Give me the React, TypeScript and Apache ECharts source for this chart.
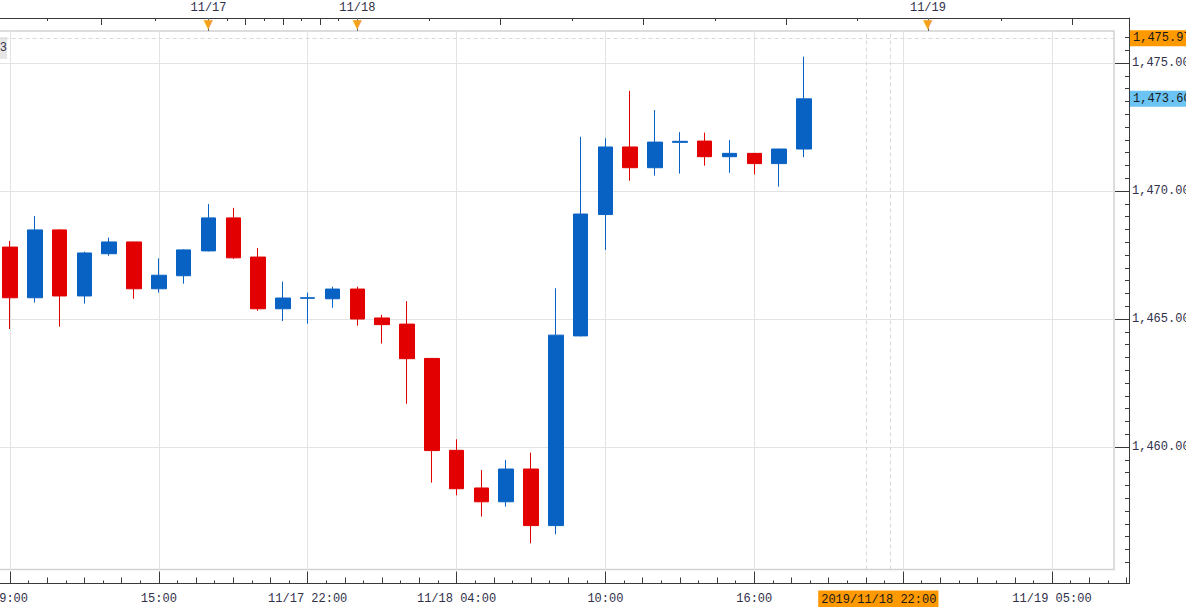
import React, { useEffect, useRef } from 'react';
import * as echarts from 'echarts';

// ---------------- data ----------------
const categories = [
  '09:00', '10:00', '11:00', '12:00', '13:00', '14:00', '15:00', '16:00', '17:00', '18:00',
  '19:00', '20:00', '11/17 22:00', '23:00', '00:00', '01:00', '02:00', '03:00', '11/18 04:00', '05:00',
  '06:00', '07:00', '08:00', '09:00', '10:00', '11:00', '12:00', '13:00', '14:00', '15:00',
  '16:00', '17:00', '18:00', '19:00', '20:00', '2019/11/18 22:00', '22:00', '23:00', '00:00', '01:00',
  '02:00', '03:00', '11/19 05:00', '06:00', '07:00',
];

const opens = [
  1467.81, 1465.83, 1468.48, 1465.90, 1467.55, 1468.01, 1466.18, 1466.69, 1467.66, 1468.95,
  1467.42, 1465.40, 1465.81, 1465.79, 1466.17, 1465.04, 1464.80, 1463.46, 1459.87, 1458.40,
  1457.86, 1459.14, 1456.93, 1464.34, 1469.08, 1471.72, 1470.91, 1471.90, 1471.95, 1471.34,
  1471.47, 1471.07, 1471.64,
];
const closes = [
  1465.83, 1468.48, 1465.90, 1467.58, 1468.01, 1466.18, 1466.71, 1467.70, 1468.95, 1467.39,
  1465.40, 1465.82, 1465.83, 1466.17, 1465.00, 1464.78, 1463.45, 1459.86, 1458.37, 1457.86,
  1459.14, 1456.93, 1464.37, 1469.10, 1471.72, 1470.91, 1471.91, 1471.94, 1471.34, 1471.47,
  1471.07, 1471.64, 1473.60,
];
const lows = [
  1464.61, 1465.64, 1464.70, 1465.60, 1467.47, 1465.79, 1466.03, 1466.38, 1467.64, 1467.35,
  1465.32, 1464.92, 1464.82, 1465.44, 1464.74, 1464.04, 1461.69, 1458.61, 1458.11, 1457.28,
  1457.67, 1456.24, 1456.59, 1464.32, 1467.70, 1470.40, 1470.60, 1470.68, 1470.99, 1470.71,
  1470.65, 1470.17, 1471.32,
];
const highs = [
  1468.05, 1469.02, 1468.50, 1467.63, 1468.18, 1468.02, 1467.37, 1467.72, 1469.49, 1469.34,
  1467.77, 1466.46, 1466.03, 1466.26, 1466.26, 1465.16, 1465.70, 1463.47, 1460.30, 1459.10,
  1459.49, 1459.78, 1466.20, 1472.12, 1472.06, 1473.91, 1473.16, 1472.30, 1472.28, 1471.99,
  1471.48, 1471.65, 1475.25,
];

const priceTicks = [1460, 1465, 1470, 1475];
const bottomLabelIdx = [0, 6, 12, 18, 24, 30, 42];
const bottomLabels = ['09:00', '15:00', '11/17 22:00', '11/18 04:00', '10:00', '16:00', '11/19 05:00'];
const gridLineIdx = [0, 6, 12, 18, 24, 30, 36, 42];
const cursorIdx = 35;
const cursorLabel = '2019/11/18 22:00';
const dayIdx = [8, 14, 37];
const dayLabels = ['11/17', '11/18', '11/19'];
const topTallTicks = [3.68, 9.5, 11, 12.5, 19.76, 25.53, 31.29, 42.8];
const topShortTicks = [1.52, 5.84, 8.75, 10.25, 11.75, 13.25, 16.88, 22.65, 28.41, 34.17, 39.94];
const highPrice = 1475.97;
const lastPrice = 1473.6;

// ---------------- layout & style ----------------
const W = 1186;
const H = 607;
const IN_L = -2.4, IN_R = 1114, IN_T = 31, IN_B = 569.5;
const OUT_R = 1129, OUT_T = 18, OUT_B = 583.5;
const Y_MIN = 1455.215, Y_MAX = 1476.25;
const SLOTS = 45;

const BLUE = '#0862c4';
const RED = '#e20000';
const AXIS = '#3a3a3a';
const TXT = '#30304a';
const FONT = '"Liberation Mono", "DejaVu Sans Mono", monospace';

const pxPerY = (IN_B - IN_T) / (Y_MAX - Y_MIN);
const outYMax = Y_MAX + (IN_T - OUT_T) / pxPerY;
const outYMin = Y_MIN - (OUT_B - IN_B) / pxPerY;
const slotW = (IN_R - IN_L) / SLOTS;
const outXMax = -0.5 + (OUT_R - IN_L) / slotW;

const near = (a: number, b: number) => Math.abs(a - b) < 1e-6;
const fmtPrice = (v: number) =>
  v.toLocaleString('en-US', { minimumFractionDigits: 2, maximumFractionDigits: 2 });

// tick positions (not data)
const bottomMid: number[] = [];
const bottomShort: number[] = [];
for (let k = 1; k * 1.5 <= 45; k++) {
  const v = k * 1.5;
  if (v % 6 !== 0) bottomMid.push(v);
}
for (let k = 0; 0.75 + k * 1.5 < 45; k++) bottomShort.push(0.75 + k * 1.5);
const rightMinor: number[] = [];
for (let v = 1455.5; v <= 1476.01; v += 0.5) {
  if (!priceTicks.some((p) => near(p, v))) rightMinor.push(Math.round(v * 10) / 10);
}

const candleData = opens.map((o, i) => [o, closes[i], lows[i], highs[i]]);

const lineOff = { show: false, onZero: false };
const lineOn = { show: true, onZero: false, lineStyle: { color: AXIS, width: 1 } };
const hidden = {
  axisLine: lineOff,
  axisTick: { show: false },
  axisLabel: { show: false },
  splitLine: { show: false },
};

function outerX(position: 'top' | 'bottom', extra: any, gridIndex = 1) {
  return {
    type: 'value', gridIndex, position, offset: 0, min: -0.5, max: outXMax,
    ...hidden, ...extra,
  };
}
function outerY(extra: any, gridIndex = 1) {
  return {
    type: 'value', gridIndex, position: 'right', offset: 0, min: outYMin, max: outYMax,
    ...hidden, ...extra,
  };
}

export default function App() {
  const ref = useRef<HTMLDivElement>(null);

  useEffect(() => {
    document.body.style.margin = '0';
    document.body.style.overflow = 'hidden';
    if (!ref.current) return;
    const chart = echarts.init(ref.current, null, { renderer: 'svg' });

    const labelBase = { fontFamily: FONT, fontSize: 12, color: TXT };
    const outerRect = {
      left: IN_L, top: OUT_T, width: OUT_R - IN_L, height: OUT_B - OUT_T,
      show: false, containLabel: false, outerBoundsMode: 'none',
    };

    const option: any = {
      animation: false,
      backgroundColor: '#ffffff',
      textStyle: { fontFamily: FONT },
      grid: [
        {
          left: IN_L, top: IN_T, width: IN_R - IN_L, height: IN_B - IN_T,
          show: true, borderColor: '#d2d2d2', borderWidth: 1.5, backgroundColor: '#ffffff',
          containLabel: false, outerBoundsMode: 'none',
        },
        outerRect,
        outerRect,
      ],
      xAxis: [
        {
          type: 'category', gridIndex: 0, data: categories, boundaryGap: true, position: 'bottom',
          ...hidden,
        },
        {
          type: 'value', gridIndex: 0, position: 'top', min: -0.5, max: SLOTS - 0.5,
          axisLine: lineOff, axisLabel: { show: false },
          axisTick: { show: false, customValues: gridLineIdx },
          splitLine: { show: true, lineStyle: { color: '#e3e3e3', width: 1 } },
        },
        // bottom axis: line + major ticks + labels
        outerX('bottom', {
          axisLine: lineOn,
          axisTick: { show: true, inside: true, length: 12, customValues: [...bottomLabelIdx, 36], lineStyle: { color: AXIS } },
          axisLabel: {
            show: true, ...labelBase, margin: 9, hideOverlap: false,
            customValues: [...bottomLabelIdx, cursorIdx],
            formatter: (v: number) => {
              if (near(v, cursorIdx)) return '{c|' + cursorLabel + '}';
              const i = bottomLabelIdx.findIndex((x) => near(x, v));
              return i >= 0 ? bottomLabels[i] : '';
            },
            rich: {
              c: {
                backgroundColor: '#ff9900', color: '#1a1a1a', fontFamily: FONT, fontSize: 12,
                padding: [3, 2, 2, 3], lineHeight: 13,
              },
            },
          },
        }),
        outerX('bottom', {
          axisTick: { show: true, inside: true, length: 6, customValues: bottomMid, lineStyle: { color: AXIS } },
        }),
        outerX('bottom', {
          axisTick: { show: true, inside: true, length: 3, customValues: bottomShort, lineStyle: { color: AXIS } },
        }),
        // top axis
        outerX('top', {
          axisLine: lineOn,
          axisTick: { show: true, inside: true, length: 7, customValues: topTallTicks, lineStyle: { color: AXIS } },
          axisLabel: {
            show: true, ...labelBase, margin: 4, hideOverlap: false,
            customValues: dayIdx,
            formatter: (v: number) => {
              const i = dayIdx.findIndex((x) => near(x, v));
              return i >= 0 ? dayLabels[i] : '';
            },
          },
        }),
        outerX('top', {
          axisTick: { show: true, inside: true, length: 3, customValues: topShortTicks, lineStyle: { color: AXIS } },
        }),
        outerX('top', {
          axisTick: { show: true, inside: true, length: 13, customValues: dayIdx, lineStyle: { color: '#666666' } },
          axisLabel: {
            show: true, inside: true, margin: 0, customValues: dayIdx, hideOverlap: false,
            formatter: () => '\u25BC',
            color: '#f5a11c', fontFamily: '"DejaVu Sans", sans-serif', fontSize: 12,
          },
        }),
        // helper x axis of the third grid
        outerX('bottom', {}, 2),
      ],
      yAxis: [
        {
          type: 'value', gridIndex: 0, position: 'left', min: Y_MIN, max: Y_MAX,
          axisLine: lineOff, axisLabel: { show: false },
          axisTick: { show: false, customValues: priceTicks },
          splitLine: { show: true, lineStyle: { color: '#e3e3e3', width: 1 } },
        },
        outerY({
          axisLine: lineOn,
          axisTick: { show: true, inside: true, length: 14, customValues: priceTicks, lineStyle: { color: AXIS } },
          axisLabel: {
            show: true, ...labelBase, margin: 3, hideOverlap: false,
            customValues: priceTicks, formatter: (v: number) => fmtPrice(v),
          },
        }),
        outerY({
          axisLabel: {
            show: true, ...labelBase, margin: 1, hideOverlap: false,
            customValues: [highPrice, lastPrice],
            formatter: (v: number) => (near(v, highPrice) ? '{o|' : '{b|') + fmtPrice(v) + '}',
            rich: {
              o: { backgroundColor: '#ff9900', color: '#1a1a1a', fontFamily: FONT, fontSize: 12, padding: [2, 3, 2, 3], lineHeight: 13 },
              b: { backgroundColor: '#6cc4f4', color: '#1a1a1a', fontFamily: FONT, fontSize: 12, padding: [2, 3, 2, 3], lineHeight: 13 },
            },
          },
        }),
        // minor ticks of the price axis, alone in the third grid
        outerY({
          axisTick: { show: true, inside: true, length: 4, customValues: rightMinor, lineStyle: { color: AXIS } },
        }, 2),
      ],
      series: [
        {
          type: 'candlestick',
          xAxisIndex: 0,
          yAxisIndex: 0,
          data: candleData,
          barWidth: 15,
          itemStyle: {
            color: BLUE, color0: RED, borderColor: BLUE, borderColor0: RED, borderWidth: 1,
          },
          markLine: {
            silent: true, symbol: 'none', animation: false,
            label: { show: false },
            lineStyle: { type: [4, 3], color: '#d9d9d9', width: 1 },
            data: [{ yAxis: highPrice }],
          },
        },
        {
          type: 'line',
          xAxisIndex: 1,
          yAxisIndex: 0,
          data: [],
          markLine: {
            silent: true, symbol: 'none', animation: false,
            label: { show: false },
            lineStyle: { type: [4, 3], color: '#d9d9d9', width: 1 },
            data: [{ xAxis: cursorIdx - 0.5 }, { xAxis: cursorIdx + 0.5 }],
          },
        },
      ],
      graphic: [
        { type: 'rect', shape: { x: 0, y: 37, width: 7, height: 22 }, style: { fill: '#e6e6e6' } },
        {
          type: 'text', x: 7, y: 48,
          style: {
            text: '3', align: 'right', verticalAlign: 'middle', textAlign: 'right', textVerticalAlign: 'middle',
            fontFamily: FONT, fontSize: 12, fill: TXT,
          },
        },
      ],
    };

    chart.setOption(option);
    return () => chart.dispose();
  }, []);

  return <div ref={ref} style={{ width: W, height: H }} />;
}
